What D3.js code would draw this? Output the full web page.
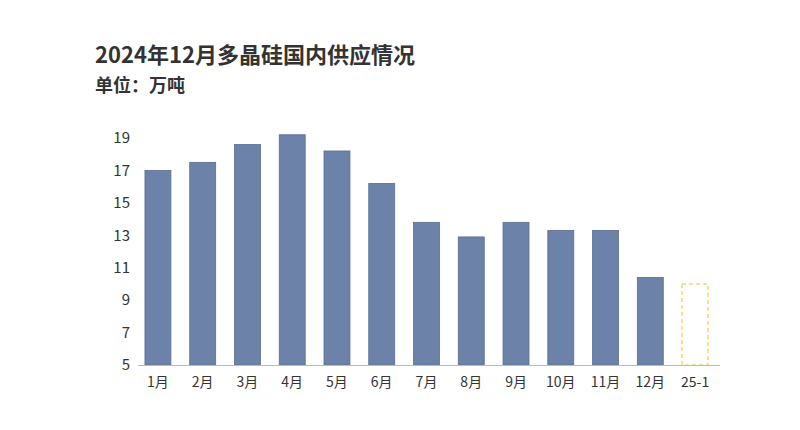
<!DOCTYPE html>
<html><head><meta charset="utf-8">
<script src="https://cdn.jsdelivr.net/npm/d3@7"></script>
<style>body{margin:0;background:#fff}</style>
</head><body>
<svg id="c" width="800" height="430"></svg>
<script>
var months = ["1月","2月","3月","4月","5月","6月","7月","8月","9月","10月","11月","12月","25-1"];
var supply = [17.0,17.5,18.6,19.2,18.2,16.2,13.8,12.9,13.8,13.3,13.3,10.4,10.0];
var forecast = [false,false,false,false,false,false,false,false,false,false,false,false,true];
var yTicks = [5,7,9,11,13,15,17,19];

var svg = d3.select("#c");
var font = "'Noto Sans CJK SC','Noto Sans',sans-serif";

svg.append("text").attr("x",95).attr("y",63).attr("font-family",font)
  .attr("font-size",22).attr("font-weight","bold").attr("fill","#333")
  .text("2024年12月多晶硅国内供应情况");
svg.append("text").attr("x",95).attr("y",92).attr("font-family",font)
  .attr("font-size",18).attr("font-weight","bold").attr("fill","#333")
  .text("单位：万吨");

var x = d3.scaleBand().domain(months).range([136,717]).paddingInner(0.42).paddingOuter(0.2);
var y = d3.scaleLinear().domain([5,19]).range([365,138]);

svg.selectAll("rect.bar").data(months).enter().append("rect")
  .attr("x",function(d){return x(d);})
  .attr("y",function(d,i){return y(supply[i]);})
  .attr("width",x.bandwidth())
  .attr("height",function(d,i){return y(5)-y(supply[i]);})
  .attr("fill",function(d,i){return forecast[i]?"none":"#6c82a8";})
  .attr("stroke",function(d,i){return forecast[i]?"#f0d878":"#5a6f94";})
  .attr("stroke-width",function(d,i){return forecast[i]?1.5:0.8;})
  .attr("stroke-dasharray",function(d,i){return forecast[i]?"4,3":null;});

var yAxis = svg.append("g").attr("transform","translate(130,0)")
  .call(d3.axisLeft(y).tickValues(yTicks).tickSize(0).tickPadding(0));
yAxis.select(".domain").remove();
yAxis.selectAll("text").attr("font-family",font).attr("font-size",15).attr("fill","#333");

var xAxis = svg.append("g").attr("transform","translate(0,365)")
  .call(d3.axisBottom(x).tickSize(0).tickPadding(12));
xAxis.select(".domain").attr("stroke","#bbb").attr("d","M138,0.5H720");
xAxis.selectAll("text").attr("font-family",font).attr("font-size",14).attr("fill","#333");
</script>
</body></html>
